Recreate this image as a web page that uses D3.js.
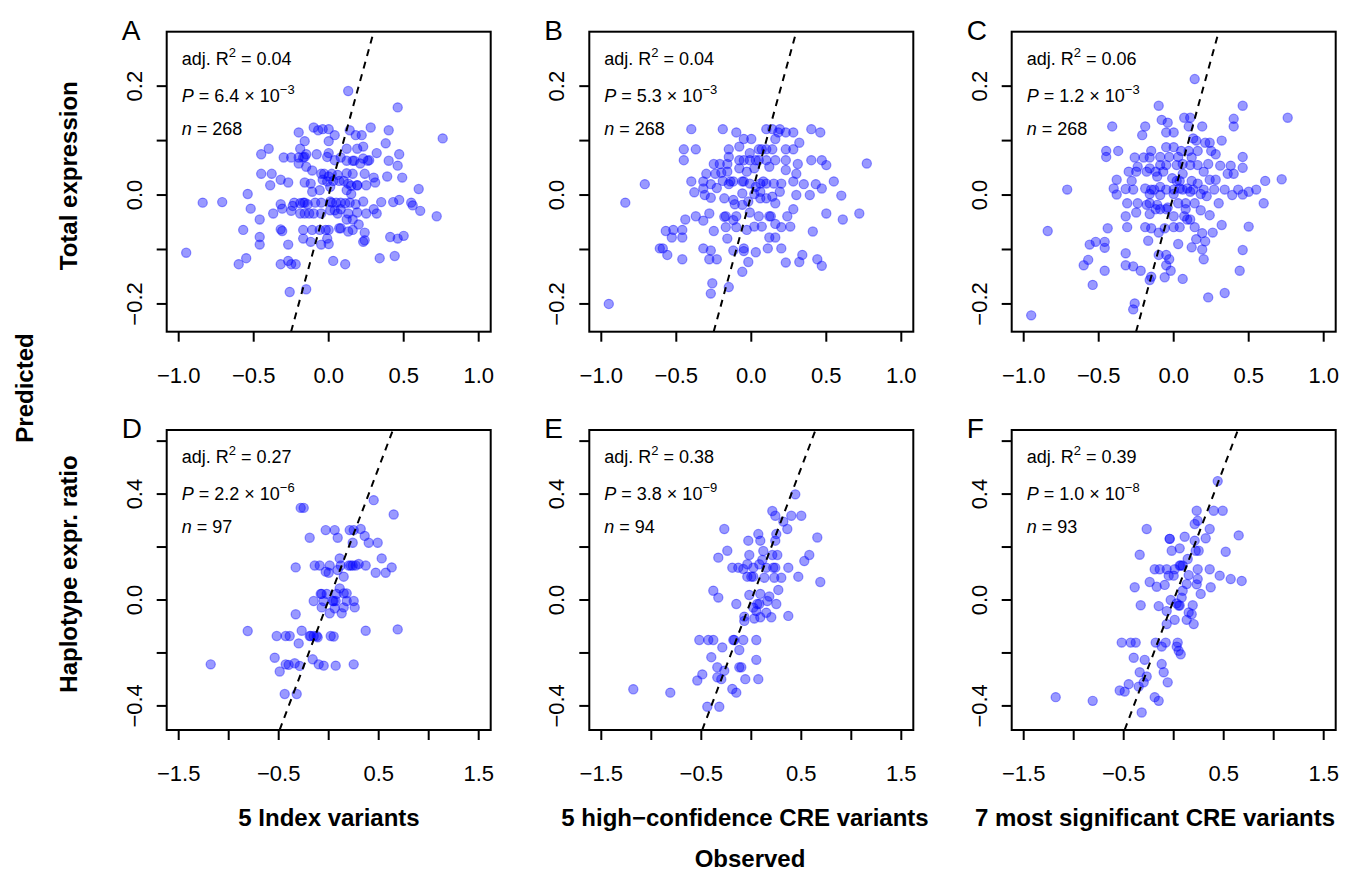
<!DOCTYPE html>
<html>
<head>
<meta charset="utf-8">
<script src="https://cdn.jsdelivr.net/npm/d3@7"></script>
<style>
  body { margin: 0; background: #fff; }
  text { font-family: "Liberation Sans", Arial, sans-serif; fill: #000; }
</style>
</head>
<body>
<div id="chart"></div>
<script>
// ---- data ----
var letters = ["A", "B", "C", "D", "E", "F"];
var rowLabels = ["Total expression", "Haplotype expr. ratio"];
var colLabels = ["5 Index variants", "5 high\u2212confidence CRE variants", "7 most significant CRE variants"];
var adjR2 = ["0.04", "0.04", "0.06", "0.27", "0.38", "0.39"];
var pMantissa = ["6.4", "5.3", "1.2", "2.2", "3.8", "1.0"];
var pExponent = ["\u22123", "\u22123", "\u22123", "\u22126", "\u22129", "\u22128"];
var nObs = ["268", "268", "268", "97", "94", "93"];

var topXTicks = [-1, -0.5, 0, 0.5, 1];
var topXLabels = [-1, -0.5, 0, 0.5, 1];
var topYTicks = [-0.2, -0.1, 0, 0.1, 0.2];
var topYLabels = [-0.2, 0, 0.2];
var botXTicks = [-1.5, -1, -0.5, 0, 0.5, 1, 1.5];
var botXLabels = [-1.5, -0.5, 0.5, 1.5];
var botYTicks = [-0.4, -0.2, 0, 0.2, 0.4, 0.6];
var botYLabels = [-0.4, 0, 0.4];

// [observed, predicted]
var pointsA = [
  [0.13,0.191],[0.46,0.161],[-0.20,0.115],[-0.10,0.124],[-0.07,0.119],[-0.04,0.121],[0.00,0.121],[0.04,0.110],
  [0.14,0.119],[0.18,0.110],[0.22,0.110],[0.28,0.124],[0.40,0.119],[0.76,0.104],[-0.16,0.099],[0.00,0.099],
  [0.38,0.095],[-0.40,0.085],[-0.45,0.075],[-0.19,0.085],[-0.15,0.075],[-0.08,0.075],[0.00,0.077],[0.12,0.085],
  [0.19,0.085],[0.23,0.089],[0.32,0.077],[0.47,0.075],[-0.30,0.069],[-0.25,0.069],[-0.20,0.069],[-0.16,0.070],
  [0.08,0.069],[0.12,0.063],[0.16,0.063],[0.23,0.067],[0.27,0.064],[0.40,0.063],[0.46,0.054],[-0.20,0.058],
  [-0.15,0.052],[-0.01,0.070],[0.04,0.064],[0.21,0.058],[0.26,0.063],[-0.45,0.039],[-0.38,0.039],[-0.32,0.028],
  [-0.27,0.023],[-0.11,0.045],[-0.05,0.039],[0.00,0.034],[0.02,0.039],[0.06,0.037],[0.12,0.040],[0.16,0.039],
  [0.24,0.039],[0.30,0.032],[0.39,0.034],[0.49,0.032],[-0.16,0.023],[-0.12,0.021],[-0.04,0.028],[-0.01,0.025],
  [0.03,0.026],[0.07,0.026],[0.13,0.021],[0.15,0.017],[0.19,0.018],[0.25,0.018],[0.31,0.023],[-0.39,0.018],
  [-0.11,0.006],[-0.06,0.009],[0.01,0.015],[0.12,0.009],[0.19,0.018],[0.15,0.002],[0.60,0.011],[-0.54,0.002],
  [-0.84,-0.014],[-0.71,-0.013],[-0.52,-0.025],[-0.37,-0.034],[-0.32,-0.017],[-0.31,-0.025],[-0.25,-0.029],[-0.23,-0.014],
  [-0.19,-0.015],[-0.17,-0.014],[-0.14,-0.017],[-0.09,-0.014],[-0.05,-0.014],[0.01,-0.012],[0.05,-0.014],[0.08,-0.014],
  [0.11,-0.015],[0.14,-0.014],[0.18,-0.017],[0.23,-0.012],[0.35,-0.013],[0.43,-0.013],[0.47,-0.009],[0.55,-0.014],
  [0.56,-0.019],[0.61,-0.029],[0.72,-0.039],[-0.24,-0.020],[-0.19,-0.034],[-0.16,-0.034],[-0.10,-0.034],[-0.05,-0.034],
  [0.01,-0.028],[0.04,-0.028],[0.08,-0.026],[0.13,-0.034],[0.19,-0.032],[0.25,-0.034],[0.32,-0.034],[0.30,-0.026],
  [-0.46,-0.045],[0.12,-0.045],[0.16,-0.045],[0.20,-0.054],[0.08,-0.061],[-0.57,-0.064],[-0.32,-0.063],[-0.31,-0.066],
  [-0.17,-0.064],[-0.11,-0.064],[-0.06,-0.064],[-0.02,-0.064],[0.00,-0.064],[0.07,-0.061],[0.13,-0.067],[0.16,-0.064],
  [0.24,-0.069],[0.41,-0.077],[0.46,-0.080],[0.50,-0.075],[-0.46,-0.077],[-0.46,-0.091],[-0.27,-0.091],[-0.17,-0.080],
  [-0.12,-0.086],[-0.05,-0.091],[0.00,-0.090],[-0.01,-0.080],[0.23,-0.086],[0.24,-0.083],[-0.95,-0.106],[-0.55,-0.116],
  [-0.60,-0.127],[-0.32,-0.127],[-0.27,-0.121],[-0.25,-0.127],[-0.22,-0.127],[0.03,-0.121],[0.11,-0.127],[0.34,-0.116],
  [0.44,-0.112],[-0.26,-0.178],[-0.15,-0.173],
  [-0.16,-0.014],[-0.13,-0.034],[0.02,-0.014],[0.06,-0.034],[-0.03,0.039],[0.10,0.026],[-0.17,0.069],[0.17,0.063]
];

var pointsB = [
  [-0.95,-0.200],[-0.84,-0.014],[-0.71,0.020],[-0.40,0.121],[-0.19,0.121],[-0.10,0.115],[-0.05,0.103],[0.00,0.103],
  [0.10,0.121],[0.14,0.121],[0.19,0.121],[0.23,0.115],[0.28,0.115],[0.16,0.103],[0.32,0.096],[0.40,0.121],
  [0.46,0.115],[-0.45,0.084],[-0.37,0.084],[-0.45,0.064],[-0.15,0.084],[-0.08,0.089],[-0.01,0.077],[0.05,0.084],
  [0.10,0.084],[0.14,0.084],[0.23,0.084],[0.28,0.084],[-0.15,0.070],[-0.08,0.064],[-0.05,0.064],[-0.01,0.064],
  [0.05,0.064],[0.10,0.064],[0.16,0.064],[0.23,0.064],[0.31,0.057],[0.40,0.064],[0.47,0.064],[0.50,0.055],
  [0.77,0.058],[-0.25,0.057],[-0.21,0.057],[-0.16,0.057],[-0.30,0.039],[-0.24,0.039],[-0.20,0.041],[-0.16,0.043],
  [-0.08,0.049],[-0.03,0.043],[0.02,0.049],[0.12,0.052],[0.23,0.046],[0.30,0.039],[-0.40,0.025],[-0.32,0.025],
  [-0.27,0.020],[-0.23,0.013],[-0.19,0.026],[-0.15,0.020],[-0.12,0.025],[-0.05,0.025],[-0.01,0.021],[0.03,0.015],
  [0.06,0.021],[0.10,0.021],[0.15,0.021],[0.20,0.021],[0.28,0.025],[0.35,0.020],[0.43,0.020],[0.47,0.012],
  [0.55,0.025],[-0.38,0.005],[-0.32,0.012],[-0.31,0.000],[-0.27,-0.005],[-0.18,-0.006],[-0.12,-0.009],[-0.06,0.003],
  [0.02,0.002],[0.06,0.006],[0.10,-0.006],[0.14,-0.003],[0.19,0.006],[0.30,0.000],[0.39,0.000],[0.60,-0.001],
  [-0.11,-0.017],[-0.06,-0.018],[-0.02,-0.012],[0.06,-0.006],[0.16,-0.015],[-0.44,-0.045],[-0.37,-0.039],[-0.32,-0.047],
  [-0.28,-0.034],[-0.18,-0.040],[-0.12,-0.046],[-0.10,-0.039],[-0.01,-0.032],[0.05,-0.039],[0.13,-0.039],[0.24,-0.039],
  [0.28,-0.026],[0.50,-0.034],[0.61,-0.045],[0.72,-0.034],[-0.17,-0.059],[-0.10,-0.059],[-0.03,-0.064],[0.02,-0.058],
  [0.07,-0.058],[0.16,-0.053],[0.20,-0.059],[0.26,-0.058],[-0.57,-0.066],[-0.52,-0.064],[-0.46,-0.064],[-0.53,-0.078],
  [-0.46,-0.078],[-0.25,-0.066],[-0.16,-0.080],[0.12,-0.078],[0.16,-0.078],[0.41,-0.067],[-0.61,-0.098],[-0.59,-0.098],
  [-0.56,-0.110],[-0.46,-0.118],[-0.32,-0.098],[-0.27,-0.102],[-0.28,-0.118],[-0.23,-0.118],[-0.12,-0.102],[-0.05,-0.098],
  [-0.05,-0.103],[0.03,-0.105],[0.11,-0.098],[0.20,-0.098],[-0.02,-0.123],[-0.06,-0.141],[0.23,-0.124],[0.32,-0.123],
  [0.34,-0.110],[0.44,-0.118],[0.47,-0.130],[-0.26,-0.162],[-0.27,-0.181],[-0.15,-0.169],
  [-0.17,-0.039],[-0.14,0.025],[0.08,0.025],[0.03,0.064],[0.12,-0.039],[0.18,0.115],[-0.06,0.025],[0.07,0.084]
];

var pointsC = [
  [0.14,0.213],[-0.10,0.164],[0.46,0.164],[0.76,0.142],[-0.08,0.138],[-0.04,0.133],[0.07,0.142],[0.11,0.142],
  [0.10,0.126],[0.19,0.126],[0.40,0.140],[0.40,0.126],[-0.41,0.126],[-0.19,0.126],[-0.21,0.110],[-0.05,0.115],
  [0.00,0.115],[0.13,0.104],[0.15,0.100],[0.21,0.096],[0.24,0.096],[0.32,0.100],[-0.45,0.081],[-0.37,0.081],
  [-0.45,0.070],[-0.15,0.081],[-0.05,0.088],[0.00,0.088],[0.05,0.081],[0.10,0.081],[0.16,0.081],[0.25,0.081],
  [0.28,0.075],[-0.26,0.069],[-0.20,0.069],[-0.16,0.069],[-0.09,0.070],[-0.03,0.070],[0.03,0.070],[0.46,0.070],
  [-0.24,0.052],[-0.16,0.049],[-0.09,0.055],[-0.05,0.055],[0.02,0.055],[0.06,0.057],[0.11,0.055],[0.16,0.055],
  [0.23,0.057],[0.31,0.054],[0.38,0.054],[0.46,0.050],[0.36,0.039],[0.40,0.039],[-0.30,0.043],[-0.25,0.043],
  [-0.18,0.043],[-0.12,0.043],[0.06,0.039],[0.20,0.043],[-0.38,0.028],[-0.28,0.026],[-0.11,0.034],[-0.01,0.031],
  [0.04,0.026],[0.12,0.026],[0.24,0.028],[0.28,0.028],[0.61,0.026],[0.72,0.029],[-0.71,0.010],[-0.40,0.012],
  [-0.32,0.011],[-0.27,0.010],[-0.19,0.012],[-0.15,0.010],[-0.09,0.015],[-0.05,0.010],[0.00,0.010],[0.04,0.012],
  [0.09,0.012],[0.13,0.010],[0.16,0.021],[0.20,0.010],[0.27,0.010],[0.34,0.010],[0.43,0.010],[0.50,0.006],
  [0.55,0.010],[-0.38,0.001],[-0.16,0.002],[-0.09,0.000],[0.00,0.002],[0.11,0.006],[0.18,0.002],[0.22,-0.002],
  [0.39,0.000],[0.46,0.001],[-0.31,-0.015],[-0.24,-0.015],[-0.18,-0.018],[-0.11,-0.018],[-0.04,-0.023],[0.03,-0.015],
  [0.08,-0.015],[0.14,-0.015],[0.30,-0.015],[0.60,-0.015],[-0.32,-0.039],[-0.25,-0.032],[-0.16,-0.035],[-0.09,-0.026],
  [-0.05,-0.026],[0.00,-0.039],[0.07,-0.039],[0.18,-0.028],[0.24,-0.037],[-0.44,-0.061],[-0.31,-0.059],[-0.19,-0.059],
  [-0.15,-0.061],[-0.10,-0.069],[-0.06,-0.061],[0.00,-0.059],[0.04,-0.059],[0.09,-0.045],[0.11,-0.045],[0.14,-0.059],
  [0.19,-0.070],[0.26,-0.069],[0.32,-0.055],[0.50,-0.058],[-0.84,-0.066],[-0.56,-0.091],[-0.52,-0.086],[-0.46,-0.086],
  [-0.46,-0.097],[-0.17,-0.084],[0.03,-0.090],[0.12,-0.096],[0.15,-0.081],[0.21,-0.085],[0.19,-0.100],[0.46,-0.101],
  [-0.60,-0.129],[-0.57,-0.119],[-0.46,-0.139],[-0.32,-0.107],[-0.32,-0.129],[-0.27,-0.131],[-0.22,-0.139],[-0.10,-0.110],
  [-0.05,-0.110],[-0.03,-0.118],[-0.05,-0.129],[-0.02,-0.139],[-0.06,-0.151],[0.06,-0.154],[0.20,-0.118],[0.44,-0.139],
  [-0.54,-0.165],[-0.16,-0.156],[-0.15,-0.150],[0.23,-0.188],[0.34,-0.180],[-0.26,-0.199],[-0.27,-0.210],[-0.95,-0.221],
  [-0.13,0.010],[-0.12,-0.026],[0.06,0.010],[0.08,-0.026],[-0.07,0.043],[0.02,0.026],[-0.16,-0.015],[0.12,0.069]
];

var pointsD = [
  [-0.28,0.348],[-0.25,0.348],[0.45,0.377],[0.65,0.323],[-0.03,0.264],[0.06,0.264],[0.21,0.264],[0.25,0.264],
  [0.32,0.268],[-0.19,0.235],[0.09,0.235],[0.36,0.242],[0.40,0.216],[0.49,0.216],[0.24,0.216],[0.11,0.157],
  [0.53,0.157],[-0.33,0.123],[-0.14,0.130],[-0.09,0.130],[0.01,0.130],[0.09,0.113],[-0.03,0.107],[0.00,0.103],
  [0.12,0.130],[0.20,0.130],[0.24,0.130],[0.27,0.130],[0.30,0.136],[0.37,0.130],[0.15,0.088],[0.47,0.103],
  [0.57,0.103],[0.63,0.123],[0.11,0.044],[-0.08,0.023],[-0.07,0.023],[0.08,0.023],[0.15,0.025],[0.18,0.025],
  [-0.02,0.023],[-0.15,-0.004],[-0.05,-0.004],[0.05,-0.004],[0.07,-0.004],[0.18,-0.004],[0.25,-0.004],[-0.07,-0.028],
  [0.06,-0.031],[0.15,-0.028],[0.26,-0.028],[0.01,-0.050],[0.13,-0.050],[-0.33,-0.054],[-0.81,-0.117],[-0.52,-0.136],
  [-0.43,-0.136],[-0.39,-0.136],[-0.27,-0.116],[-0.19,-0.136],[-0.15,-0.136],[-0.11,-0.141],[0.02,-0.136],[0.05,-0.138],
  [0.37,-0.116],[0.69,-0.111],[-0.30,-0.164],[-0.54,-0.218],[-0.49,-0.270],[-0.43,-0.243],[-0.40,-0.245],[-0.34,-0.239],
  [-0.29,-0.249],[-0.16,-0.224],[-0.10,-0.243],[-0.05,-0.248],[0.07,-0.248],[0.25,-0.243],[-1.18,-0.243],[-0.44,-0.355],
  [-0.32,-0.355],[-0.18,-0.136],[0.04,-0.004],[0.22,0.130],[-0.12,-0.136]
];

var pointsE = [
  [0.44,0.399],[0.21,0.336],[0.24,0.318],[0.40,0.318],[0.50,0.318],[0.32,0.296],[0.36,0.268],[-0.27,0.268],
  [0.07,0.249],[0.25,0.249],[0.66,0.236],[-0.03,0.224],[0.09,0.224],[0.24,0.224],[-0.24,0.186],[0.12,0.185],
  [-0.33,0.160],[-0.02,0.170],[0.21,0.170],[0.26,0.170],[0.58,0.170],[0.53,0.147],[-0.19,0.122],[-0.13,0.122],
  [-0.08,0.117],[-0.04,0.135],[0.02,0.122],[0.08,0.135],[0.11,0.151],[0.15,0.122],[0.22,0.122],[0.24,0.122],
  [0.37,0.122],[-0.04,0.088],[0.00,0.088],[0.02,0.088],[0.13,0.084],[0.23,0.084],[0.30,0.084],[0.47,0.088],
  [0.69,0.068],[-0.38,0.035],[-0.33,0.009],[-0.02,0.019],[0.09,0.023],[0.27,0.038],[0.18,0.013],[0.16,-0.004],
  [0.25,-0.015],[-0.15,-0.015],[0.06,-0.015],[0.08,-0.015],[0.02,-0.029],[0.05,-0.042],[0.15,-0.048],[0.20,-0.065],
  [0.37,-0.060],[-0.07,-0.063],[0.03,-0.070],[0.09,-0.065],[-0.07,-0.079],[-0.52,-0.151],[-0.43,-0.151],[-0.38,-0.151],
  [-0.18,-0.151],[-0.17,-0.151],[-0.08,-0.151],[0.05,-0.151],[-0.29,-0.179],[-0.12,-0.189],[-0.40,-0.216],[0.05,-0.226],
  [-0.34,-0.254],[-0.27,-0.267],[-0.12,-0.254],[-0.10,-0.254],[-0.49,-0.281],[-0.54,-0.304],[-0.34,-0.292],[-0.30,-0.299],
  [-0.06,-0.299],[0.07,-0.299],[-0.19,-0.336],[-0.15,-0.350],[-1.18,-0.337],[-0.81,-0.350],[-0.44,-0.403],[-0.32,-0.403]
];

var pointsF = [
  [0.44,0.449],[0.23,0.337],[0.40,0.337],[0.49,0.337],[0.24,0.299],[0.21,0.287],[0.36,0.268],[-0.27,0.268],
  [-0.04,0.231],[-0.04,0.231],[0.11,0.239],[0.21,0.224],[0.32,0.233],[0.65,0.244],[0.06,0.195],[-0.02,0.186],
  [0.22,0.186],[0.25,0.186],[0.52,0.182],[-0.34,0.171],[0.14,0.155],[0.09,0.130],[0.06,0.130],[-0.19,0.116],
  [-0.14,0.116],[-0.07,0.116],[0.01,0.116],[0.24,0.116],[0.36,0.116],[-0.05,0.092],[0.00,0.092],[0.15,0.094],
  [0.24,0.079],[0.46,0.092],[0.57,0.079],[0.68,0.072],[-0.24,0.068],[-0.09,0.057],[-0.17,0.050],[0.13,0.060],
  [0.23,0.059],[-0.39,0.048],[0.37,0.048],[0.09,0.035],[0.27,0.023],[0.08,0.009],[-0.03,0.000],[0.03,-0.013],
  [0.06,-0.021],[-0.33,-0.020],[-0.15,-0.023],[0.19,-0.020],[-0.07,-0.042],[0.15,-0.047],[0.18,-0.054],[0.01,-0.075],
  [0.13,-0.075],[0.20,-0.091],[-0.07,-0.091],[-0.52,-0.161],[-0.43,-0.161],[-0.38,-0.161],[-0.18,-0.161],[-0.08,-0.161],
  [0.04,-0.161],[-0.12,-0.176],[0.03,-0.176],[0.05,-0.192],[0.07,-0.205],[-0.40,-0.218],[-0.29,-0.226],[-0.12,-0.242],
  [-0.10,-0.273],[-0.34,-0.273],[-0.27,-0.289],[-0.06,-0.311],[-0.45,-0.318],[-0.30,-0.311],[-0.35,-0.327],[-0.54,-0.342],
  [-0.49,-0.346],[-0.19,-0.367],[-0.15,-0.381],[-0.32,-0.425],[-1.18,-0.367],[-0.81,-0.381],[0.05,-0.021],[0.07,0.130]
];

var panelPoints = [pointsA, pointsB, pointsC, pointsD, pointsE, pointsF];

// ---- layout ----
var width = 1356, height = 872;
var lefts = [166.7, 589.3, 1011.7], tops = [31.7, 430];
var pw = 324, ph = 300;
var colLabelX = [329, 745, 1155];

var svg = d3.select("#chart").append("svg")
  .attr("width", width).attr("height", height);

var fmt = d3.format(".1f");

panelPoints.forEach(function(pts, i) {
  var row = Math.floor(i / 3), col = i % 3;
  var x0 = lefts[col], y0 = tops[row];
  var xDom = row === 0 ? [-1.08, 1.08] : [-1.62, 1.62];
  var yDom = row === 0 ? [-0.251, 0.300] : [-0.491, 0.642];
  var x = d3.scaleLinear().domain(xDom).range([0, pw]);
  var y = d3.scaleLinear().domain(yDom).range([ph, 0]);

  var g = svg.append("g").attr("transform", "translate(" + x0 + "," + y0 + ")");

  g.append("clipPath").attr("id", "clip" + i)
    .append("rect").attr("width", pw).attr("height", ph);

  var plot = g.append("g").attr("clip-path", "url(#clip" + i + ")");

  plot.selectAll("circle.pt")
    .data(pts)
    .enter()
    .append("circle")
    .attr("class", "pt")
    .attr("cx", function(d) { return x(d[0]); })
    .attr("cy", function(d) { return y(d[1]); })
    .attr("r", 4.6)
    .style("fill", "rgba(0,0,255,0.4)")
    .style("stroke", "rgba(0,0,255,0.4)")
    .style("stroke-width", 1.2);

  // identity line
  var lo = Math.max(xDom[0], yDom[0]), hi = Math.min(xDom[1], yDom[1]);
  plot.append("line")
    .attr("x1", x(lo)).attr("y1", y(lo))
    .attr("x2", x(hi)).attr("y2", y(hi))
    .attr("stroke", "#000").attr("stroke-width", 2)
    .attr("stroke-dasharray", "7,6");

  // box
  g.append("rect").attr("width", pw).attr("height", ph)
    .attr("fill", "none").attr("stroke", "#000").attr("stroke-width", 2);

  // x axis
  var xt = row === 0 ? topXTicks : botXTicks;
  var xl = row === 0 ? topXLabels : botXLabels;
  var xAxis = g.append("g").attr("transform", "translate(0," + ph + ")");
  xAxis.selectAll("line").data(xt).enter().append("line")
    .attr("x1", function(d) { return x(d); }).attr("x2", function(d) { return x(d); })
    .attr("y1", 0).attr("y2", 10)
    .attr("stroke", "#000").attr("stroke-width", 2);
  xAxis.selectAll("text").data(xl).enter().append("text")
    .attr("x", function(d) { return x(d); })
    .attr("y", 51)
    .attr("text-anchor", "middle")
    .style("font-size", "22px")
    .text(function(d) { return fmt(d); });

  // y axis
  var yt = row === 0 ? topYTicks : botYTicks;
  var yl = row === 0 ? topYLabels : botYLabels;
  var yAxis = g.append("g");
  yAxis.selectAll("line").data(yt).enter().append("line")
    .attr("x1", -10).attr("x2", 0)
    .attr("y1", function(d) { return y(d); }).attr("y2", function(d) { return y(d); })
    .attr("stroke", "#000").attr("stroke-width", 2);
  yAxis.selectAll("text").data(yl).enter().append("text")
    .attr("transform", function(d) { return "translate(-25," + y(d) + ") rotate(-90)"; })
    .attr("text-anchor", "middle")
    .style("font-size", "22px")
    .text(function(d) { return fmt(d); });

  // panel letter
  g.append("text").attr("x", -45).attr("y", 8)
    .style("font-size", "28px")
    .text(letters[i]);

  // stats
  var t1 = g.append("text").attr("x", 15).attr("y", 33).style("font-size", "18px");
  t1.append("tspan").text("adj. R");
  t1.append("tspan").attr("dy", -8).style("font-size", "13px").text("2");
  t1.append("tspan").attr("dy", 8).text(" = " + adjR2[i]);

  var t2 = g.append("text").attr("x", 15).attr("y", 70).style("font-size", "18px");
  t2.append("tspan").style("font-style", "italic").text("P");
  t2.append("tspan").text(" = " + pMantissa[i] + " \u00d7 10");
  t2.append("tspan").attr("dy", -8).style("font-size", "13px").text(pExponent[i]);

  var t3 = g.append("text").attr("x", 15).attr("y", 103).style("font-size", "18px");
  t3.append("tspan").style("font-style", "italic").text("n");
  t3.append("tspan").text(" = " + nObs[i]);
});

// row labels
rowLabels.forEach(function(lab, r) {
  svg.append("text")
    .attr("transform", "translate(77," + (tops[r] + ph / 2 - 6) + ") rotate(-90)")
    .attr("text-anchor", "middle")
    .style("font-size", "24px").style("font-weight", "bold")
    .text(lab);
});

// column labels
colLabels.forEach(function(lab, c) {
  svg.append("text")
    .attr("x", colLabelX[c]).attr("y", 826)
    .attr("text-anchor", "middle")
    .style("font-size", "24px").style("font-weight", "bold")
    .text(lab);
});

svg.append("text")
  .attr("transform", "translate(33,388) rotate(-90)")
  .attr("text-anchor", "middle")
  .style("font-size", "24px").style("font-weight", "bold")
  .text("Predicted");

svg.append("text")
  .attr("x", 750).attr("y", 867)
  .attr("text-anchor", "middle")
  .style("font-size", "24px").style("font-weight", "bold")
  .text("Observed");
</script>
</body>
</html>
